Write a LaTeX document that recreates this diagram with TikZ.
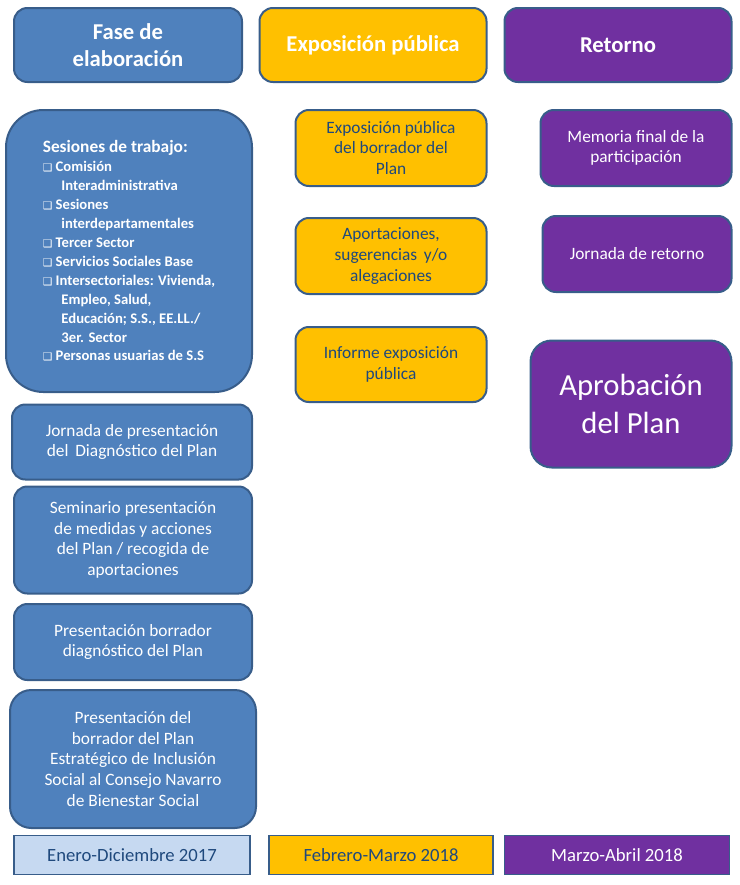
\documentclass[tikz,border=0pt]{standalone}
\usepackage{fontspec}
\setmainfont{Carlito}
\newfontfamily\symfont{DejaVu Sans}
\usetikzlibrary{positioning}
\definecolor{fblue}{HTML}{4F81BD}
\definecolor{lblue}{HTML}{385D8A}
\definecolor{pale}{HTML}{C6D9F1}
\definecolor{orng}{HTML}{FFC000}
\definecolor{purp}{HTML}{7030A0}
\definecolor{navy}{HTML}{1F497D}
\newcommand{\chk}{{\symfont\fontsize{8}{8}\selectfont ❑}\ }
\begin{document}
\begin{tikzpicture}[x=0.75pt, y=-0.75pt, line width=1.5pt,
    box/.style = {draw=lblue, rounded corners=10pt, align=center, inner sep=2pt},
    blu/.style = {box, fill=fblue, text=white, font=\fontsize{13}{15.5}\selectfont},
    org/.style = {box, fill=orng, text=navy, font=\fontsize{13}{15.5}\selectfont},
    pur/.style = {box, fill=purp, text=white, font=\fontsize{13}{15.5}\selectfont},
    head/.style = {font=\fontsize{17}{20}\bfseries\selectfont},
    bar/.style = {draw=lblue, line width=1pt, align=center, font=\fontsize{14}{16}\selectfont}]
\useasboundingbox (0,0) rectangle (739,885);

%headers
\node[blu, head, minimum width=228pt*0.75, minimum height=74pt*0.75] (FASE) at (128,45) {Fase de\\elaboración};
\node[org, head, text=white, minimum width=227pt*0.75, minimum height=74pt*0.75] (EXPO) at (373,45) {Exposición pública};
\node[pur, head, minimum width=227pt*0.75, minimum height=74pt*0.75] (RET) at (618,45) {Retorno};

%elaboracion
\node[blu, rounded corners=28pt, minimum width=246pt*0.75, minimum height=282pt*0.75, align=left,
      font=\fontsize{11}{14.2}\bfseries\selectfont] (SES) at (129,251)
  {{\fontsize{13}{15}\selectfont Sesiones de trabajo:}\\
   \chk Comisión\\ \hspace*{14pt}Interadministrativa\\
   \chk Sesiones\\ \hspace*{14pt}interdepartamentales\\
   \chk Tercer Sector\\
   \chk Servicios Sociales Base\\
   \chk Intersectoriales: Vivienda,\\ \hspace*{14pt}Empleo, Salud,\\ \hspace*{14pt}Educación; S.S., EE.LL./\\ \hspace*{14pt}3er. Sector\\
   \chk Personas usuarias de S.S};
\node[blu, minimum width=240pt*0.75, minimum height=75pt*0.75] (JOR) at (132,442) {Jornada de presentación\\del\, Diagnóstico del Plan};
\node[blu, minimum width=238pt*0.75, minimum height=107pt*0.75] (SEM) at (133,540) {Seminario presentación\\de medidas y acciones\\del Plan / recogida de\\aportaciones};
\node[blu, minimum width=238pt*0.75, minimum height=76pt*0.75] (PBD) at (133,642) {Presentación borrador\\diagnóstico del Plan};
\node[blu, rounded corners=16pt, minimum width=246pt*0.75, minimum height=138pt*0.75] (PBP) at (133,759) {Presentación del\\borrador del Plan\\Estratégico de Inclusión\\Social al Consejo Navarro\\de Bienestar Social};

%exposicion
\node[org, minimum width=191pt*0.75, minimum height=76pt*0.75] (EXB) at (391,148) {Exposición pública\\del borrador del\\Plan};
\node[org, minimum width=191pt*0.75, minimum height=76pt*0.75] (APO) [below=30pt*0.75 of EXB] {Aportaciones,\\sugerencias\, y/o\\alegaciones};
\node[org, minimum width=191pt*0.75, minimum height=75pt*0.75] (INF) [below=31pt*0.75 of APO] {Informe exposición\\pública};

%retorno
\node[pur, minimum width=191pt*0.75, minimum height=76pt*0.75] (MEM) at (636,148) {Memoria final de la\\participación};
\node[pur, minimum width=189pt*0.75, minimum height=76pt*0.75] (JRT) at (637,254) {Jornada de retorno};
\node[pur, rounded corners=16pt, minimum width=201pt*0.75, minimum height=127pt*0.75,
      font=\fontsize{23}{29}\selectfont] (APR) at (631,404) {Aprobación\\del Plan};

%periodos
\node[bar, fill=pale, text=navy, minimum width=236pt*0.75, minimum height=39pt*0.75] (P1) at (132,855) {Enero-Diciembre 2017};
\node[bar, fill=orng, text=navy, minimum width=224pt*0.75, minimum height=39pt*0.75] (P2) at (381,855) {Febrero-Marzo 2018};
\node[bar, fill=purp, text=white, minimum width=225pt*0.75, minimum height=39pt*0.75] (P3) at (617,855) {Marzo-Abril 2018};
\end{tikzpicture}
\end{document}
